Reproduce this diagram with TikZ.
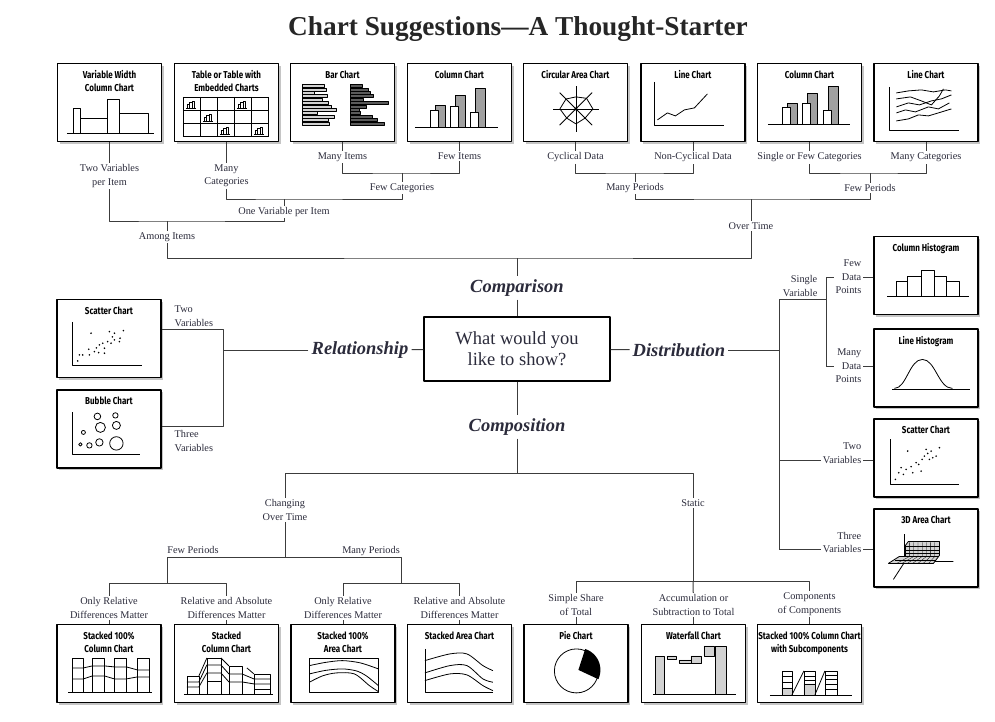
\documentclass[tikz,border=0pt]{standalone}
\usepackage{fontspec}
\setmainfont{Liberation Serif}
\newfontfamily\chartfont[FakeStretch=0.8]{Fira Sans}
\usetikzlibrary{positioning,shadows,calc}

\definecolor{ink}{HTML}{2B2B3B}
\definecolor{rule}{HTML}{3C3C3C}
\definecolor{barfill}{HTML}{A0A0A0}
\definecolor{lightfill}{HTML}{D2D2D2}
\definecolor{darkfill}{HTML}{5A5A5A}

\begin{document}
\begin{tikzpicture}[x=1pt, y=-1pt, line join=round]

    % Define styles
    \tikzstyle{chart} = [draw, line width=1.2pt, fill=white, minimum width=104pt,
        minimum height=78pt, inner sep=0pt,
        drop shadow={shadow xshift=2.2pt, shadow yshift=-2.2pt, fill=black!45}]
    \tikzstyle{charttitle} = [font=\chartfont\bfseries\fontsize{10}{13}\selectfont,
        align=center, inner sep=0pt]
    \tikzstyle{lbl} = [font=\fontsize{10.3}{13.4}\selectfont, align=center, text=ink, inner sep=1.5pt]
    \tikzstyle{kind} = [font=\bfseries\itshape\fontsize{18.5}{22}\selectfont, text=ink, inner sep=3pt]
    \tikzstyle{link} = [draw=rule, line width=1pt]
    \tikzstyle{mini} = [line width=0.8pt]

    \useasboundingbox (0,0) rectangle (995,721);
    \fill[white] (0,0) rectangle (995,721);

    % Title
    \node[font=\bfseries\fontsize{27.3}{30}\selectfont, text=black!85] (title) at (518,29)
        {Chart Suggestions---A Thought-Starter};

    % Define chart boxes: comparison row
    \node[chart] (vwidth) at (109.5,102.5) {};
    \node[charttitle, below=7.5pt of vwidth.north] (vwidthT) {Variable Width\\Column Chart};
    \begin{scope}[shift={(vwidth.north west)}, mini]
        \draw (10,70) -- (97,70);
        \draw (16,70) rectangle (23,45) (23,70) rectangle (50,55)
              (50,70) rectangle (62,36) (62,70) rectangle (91,50);
    \end{scope}

    \node[chart] (table) at (226.5,102.5) {};
    \node[charttitle, below=7.5pt of table.north] (tableT) {Table or Table with\\Embedded Charts};
    \begin{scope}[shift={(table.north west)}, mini]
        \foreach \i in {0,...,5} \draw (9+17*\i,34) -- (9+17*\i,74);
        \foreach \j in {0,...,3} \draw (9,34+13.33*\j) -- (94,34+13.33*\j);
        \foreach \c/\r in {0/0,3/0,1/1,2/2,4/2}
            \draw[line width=0.5pt, fill=white] (12+17*\c,45+13.33*\r) -- (22+17*\c,45+13.33*\r)
                (13+17*\c,45+13.33*\r) rectangle ++(2.5,-4)
                (15.5+17*\c,45+13.33*\r) rectangle ++(2.5,-6)
                (18+17*\c,45+13.33*\r) rectangle ++(2.5,-7);
    \end{scope}

    \node[chart] (bar) at (342.5,102.5) {};
    \node[charttitle, below=7.5pt of bar.north] (barT) {Bar Chart};
    \begin{scope}[shift={(bar.north west)}, mini]
        \foreach \l [count=\i] in {22,24,12,25,20,26,29,34,15,32,26,27}
            \draw[line width=0.4pt, fill=lightfill] (12,18+3.4*\i) rectangle ++(\l,3.1);
        \foreach \l [count=\i] in {12,18,20,23,13,38,16,9,10,22,27,34}
            \draw[line width=0.4pt, fill=darkfill] (60,18+3.4*\i) rectangle ++(\l,3.1);
        \draw (12,21) -- (12,61) (60,21) -- (60,61);
    \end{scope}

    \node[chart] (column) at (459.5,102.5) {};
    \node[charttitle, below=7.5pt of column.north] (columnT) {Column Chart};
    \begin{scope}[shift={(column.north west)}, mini]
        \foreach \x/\w/\g in {23/47/42, 43/43/32, 63/49/25} {
            \draw[fill=barfill] (\x+5,64) rectangle (\x+15,\g);
            \draw[fill=white] (\x,64) rectangle (\x+8,\w);
        }
        \draw (8,64) -- (91,64);
    \end{scope}

    \node[chart] (circular) at (575.5,102.5) {};
    \node[charttitle, below=7.5pt of circular.north] (circularT) {Circular Area Chart};
    \begin{scope}[shift={(circular.north west)}, mini]
        \foreach \a in {0,45,...,315} \draw (53,46) -- ++(\a:23);
        \draw ($(53,46)+(0:17)$) -- ($(53,46)+(45:13)$) -- ($(53,46)+(90:15)$)
            -- ($(53,46)+(135:13)$) -- ($(53,46)+(180:16)$) -- ($(53,46)+(225:14)$)
            -- ($(53,46)+(270:12)$) -- ($(53,46)+(315:15)$) -- cycle;
        \fill (53,46) circle[radius=1.6];
    \end{scope}

    \node[chart] (linech) at (693,102.5) {};
    \node[charttitle, below=7.5pt of linech.north] (linechT) {Line Chart};
    \begin{scope}[shift={(linech.north west)}, mini]
        \draw (14,19) -- (14,62) -- (84,62);
        \draw (17,57) -- (27,50) -- (35,53) -- (44,47) -- (54,45) -- (67,31);
    \end{scope}

    \node[chart] (columnB) at (809.5,102.5) {};
    \node[charttitle, below=7.5pt of columnB.north] (columnBT) {Column Chart};
    \begin{scope}[shift={(columnB.north west)}, mini]
        \foreach \x/\w/\g in {25/44/40, 45/40/30, 66/47/23} {
            \draw[fill=barfill] (\x+5,61) rectangle (\x+15,\g);
            \draw[fill=white] (\x,61) rectangle (\x+8,\w);
        }
        \draw (11,61) -- (93,61);
    \end{scope}

    \node[chart] (linechB) at (926,102.5) {};
    \node[charttitle, below=7.5pt of linechB.north] (linechBT) {Line Chart};
    \begin{scope}[shift={(linechB.north west)}, mini]
        \draw (16,24) -- (16,67) -- (86,67);
        \draw (23,30) -- (35,28) -- (48,27) -- (60,29) -- (72,27) -- (78,28);
        \draw (23,36) -- (37,34) -- (48,38) -- (58,42) -- (66,33) -- (70,26);
        \draw (23,44) -- (35,40) -- (46,42) -- (58,38) -- (68,36) -- (78,32);
        \draw (23,50) -- (32,47) -- (42,49) -- (55,44) -- (65,46) -- (76,40);
        \draw (23,58) -- (35,56) -- (45,52) -- (55,53) -- (65,50) -- (78,46);
    \end{scope}

    % Relationship boxes
    \node[chart] (scatterL) at (109,338.5) {};
    \node[charttitle, below=7.5pt of scatterL.north] (scatterLT) {Scatter Chart};
    \begin{scope}[shift={(scatterL.north west)}, mini]
        \draw (16,23) -- (16,66) -- (86,66);
        \foreach \x/\y in {34.7/34.3, 53/32.7, 58/34.3, 67/31.7, 21.3/62, 23/56, 26.3/56,
            32.3/50.3, 38/52.7, 43/46, 46.3/44.3, 48/49.3, 51.3/42.7, 54.7/44.3, 58/41,
            63/42.7, 63.7/39.3, 33/56, 42.3/53.7, 48/54.3, 40/49, 56/38}
            \fill (\x,\y) circle[radius=0.9];
    \end{scope}

    \node[chart] (bubble) at (109,429) {};
    \node[charttitle, below=7.5pt of bubble.north] (bubbleT) {Bubble Chart};
    \begin{scope}[shift={(bubble.north west)}, mini]
        \draw (16,23) -- (16,65) -- (84,65);
        \foreach \x/\y/\r in {41/27/3.3, 59/26/2.7, 44/38/5, 60/36/4, 27/43/2, 24/55/1.7,
            33/56/2.7, 43/53/3.7, 60/54/6.7}
            \draw (\x,\y) circle[radius=\r];
    \end{scope}

    % Distribution boxes
    \node[chart] (colhist) at (926,275.5) {};
    \node[charttitle, below=7.5pt of colhist.north] (colhistT) {Column Histogram};
    \begin{scope}[shift={(colhist.north west)}, mini]
        \draw (14,60) -- (96,60);
        \draw (23,60) rectangle (34,45) (34,60) rectangle (48,40) (48,60) rectangle (61,34)
              (61,60) rectangle (73,40) (73,60) rectangle (86,45);
    \end{scope}

    \node[chart] (linehist) at (926,368) {};
    \node[charttitle, below=7.5pt of linehist.north] (linehistT) {Line Histogram};
    \begin{scope}[shift={(linehist.north west)}, mini]
        \draw (19,61) -- (97,61);
        \draw (21,60) .. controls (33,60) and (36,31) .. (49,31) .. controls (62,31) and (65,60) .. (79,60);
    \end{scope}

    \node[chart] (scatterR) at (926,458) {};
    \node[charttitle, below=7.5pt of scatterR.north] (scatterRT) {Scatter Chart};
    \begin{scope}[shift={(scatterR.north west)}, mini]
        \draw (17,21) -- (17,66) -- (86,66);
        \foreach \x/\y in {34.3/32.7, 52.7/31, 57.7/32.7, 66/29.3, 22/61, 25.3/54.3, 27.7/49.3,
            32.7/51, 37.7/48.3, 42.7/44.3, 45.3/46, 48.7/41, 51/37.7, 54.3/35, 56/41,
            59.3/39.3, 62.7/37.7, 47.7/52.7, 39.3/54.3, 30/56}
            \fill (\x,\y) circle[radius=0.9];
    \end{scope}

    \node[chart] (area3d) at (926,548) {};
    \node[charttitle, below=7.5pt of area3d.north] (area3dT) {3D Area Chart};
    \begin{scope}[shift={(area3d.north west)}, mini]
        \draw (31,54) -- (20,71) (31,53) -- (80,53);
        \draw[fill=lightfill] (32,37) -- (35,33) -- (66,33) -- (66,47) -- (60,55) -- (15,55)
            -- (26,48) -- (32,48) -- cycle;
        \foreach \i in {1,...,7}
            \draw[line width=0.3pt] (32+4.2*\i,34) -- (32+4.2*\i,48) -- (18+5.3*\i,55);
        \foreach \j in {38,42,45} \draw[line width=0.3pt] (32,\j) -- (66,\j);
        \draw[line width=0.3pt] (32,48) -- (66,48) (22,51.5) -- (63,51.5);
        \draw (31,26) -- (31,48);
    \end{scope}

    % Composition boxes
    \node[chart] (stackcol) at (109,663.5) {};
    \node[charttitle, below=7.5pt of stackcol.north] (stackcolT) {Stacked 100\%\\Column Chart};
    \begin{scope}[shift={(stackcol.north west)}, mini]
        \foreach \a/\b in {16/27, 36/48, 58/70, 81/93} \draw (\a,68) rectangle (\b,34);
        \draw (16,44) -- (27,44) -- (36,42) -- (48,42) -- (58,43) -- (70,43) -- (81,46) -- (93,46);
        \draw (16,55) -- (27,55) -- (36,52) -- (48,52) -- (58,55) -- (70,55) -- (81,53) -- (93,53);
        \draw (12,68) -- (96,68);
    \end{scope}

    \node[chart] (stacked) at (226.5,663.5) {};
    \node[charttitle, below=7.5pt of stacked.north] (stackedT) {Stacked\\Column Chart};
    \begin{scope}[shift={(stacked.north west)}, mini]
        \draw (13,70) rectangle (25,52) (33,70) rectangle (47,34) (55,70) rectangle (68,42)
              (80,70) rectangle (96,50);
        \draw (13,58) -- (25,58) -- (33,41) -- (47,41) -- (55,50) -- (68,50) -- (80,55) -- (96,55);
        \draw (13,63) -- (25,63) -- (33,49) -- (47,49) -- (55,58) -- (68,58) -- (80,60) -- (96,60);
        \draw (33,57) -- (47,57) (80,65) -- (96,65);
        \draw (25,52) -- (33,34) (47,34) -- (55,42) (73,44) -- (80,50);
        \draw (10,70) -- (99,70);
    \end{scope}

    \node[chart] (areafull) at (343,663.5) {};
    \node[charttitle, below=7.5pt of areafull.north] (areafullT) {Stacked 100\%\\Area Chart};
    \begin{scope}[shift={(areafull.north west)}, mini]
        \draw (19,34) rectangle (88,68);
        \draw plot[smooth] coordinates {(19,41.7) (35,38.5) (52,36.7) (70,39) (88,45)};
        \draw plot[smooth] coordinates {(19,50) (35,46.5) (52,45) (66,47) (76,52) (88,61.7)};
        \draw plot[smooth] coordinates {(19,58.3) (32,52) (46,49) (64,50) (79,61.7) (88,67.7)};
    \end{scope}

    \node[chart] (stackarea) at (459.5,663.5) {};
    \node[charttitle, below=7.5pt of stackarea.north] (stackareaT) {Stacked Area Chart};
    \begin{scope}[shift={(stackarea.north west)}, mini]
        \draw (18,25) -- (18,68) -- (86,68);
        \draw plot[smooth] coordinates {(18,36.7) (43,30) (60,30) (76,41.7) (86,46.7)};
        \draw plot[smooth] coordinates {(18,49) (43,41.7) (60,41.7) (76,55) (86,58.3)};
        \draw plot[smooth] coordinates {(18,56.7) (43,50) (60,51) (76,61.7) (86,66.7)};
    \end{scope}

    \node[chart] (pie) at (576,663.5) {};
    \node[charttitle, below=7.5pt of pie.north] (pieT) {Pie Chart};
    \begin{scope}[shift={(pie.north west)}, mini]
        \draw (53,47) circle[radius=22];
        \fill (55,46) -- plot[domain=-72:25, samples=24] ({55+22*cos(\x)},{46+22*sin(\x)}) -- cycle;
    \end{scope}

    \node[chart] (waterfall) at (693.5,663.5) {};
    \node[charttitle, below=7.5pt of waterfall.north] (waterfallT) {Waterfall Chart};
    \begin{scope}[shift={(waterfall.north west)}, mini]
        \draw[fill=lightfill] (14,70) rectangle (23,32);
        \draw[fill=lightfill] (26,32) rectangle (35,35) (38,36) rectangle (50,39)
              (50,32) rectangle (60,39) (63,22) rectangle (73,32);
        \draw[fill=lightfill] (74,70) rectangle (85,22);
        \draw (12,70) -- (95,70);
    \end{scope}

    \node[chart] (subcomp) at (809.5,663.5) {};
    \node[charttitle, below=7.5pt of subcomp.north] (subcompT) {Stacked 100\% Column Chart\\with Subcomponents};
    \begin{scope}[shift={(subcomp.north west)}, mini]
        \draw[fill=lightfill] (25,64) rectangle (35,71) (47,60) rectangle (58,71);
        \draw (25,47) rectangle (35,71) (47,47) rectangle (58,71) (68,47) rectangle (80,71);
        \draw (25,52) -- (35,52) (25,58) -- (35,58) (25,64) -- (35,64);
        \draw (47,52) -- (58,52) (47,56) -- (58,56) (47,60) -- (58,60);
        \draw (68,51) -- (80,51) (68,55) -- (80,55) (68,60) -- (80,60) (68,65) -- (80,65);
        \draw (35,71) -- (47,47) (58,71) -- (68,47);
        \draw (13,71) -- (95,71);
    \end{scope}

    % Centre question and the four kinds
    \node[draw, line width=1.1pt, minimum width=186pt, minimum height=64pt, align=center,
        text=ink, font=\fontsize{18.5}{21}\selectfont] (question) at (517,349)
        {What would you\\like to show?};
    \node[kind] (comparison) at (517,288) {Comparison};
    \node[kind] (composition) at (517,427) {Composition};
    \node[kind] (relation) at (360,350) {Relationship};
    \node[kind] (distrib) at (679,350) {Distribution};

    % Comparison labels
    \node[lbl, below=21pt of vwidth] (twovar) {Two Variables\\per Item};
    \node[lbl, below=21pt of table] (manycat) {Many\\Categories};
    \node[lbl, below=9pt of bar] (manyitems) {Many Items};
    \node[lbl, below=9pt of column] (fewitems) {Few Items};
    \node[lbl, below=9pt of circular] (cyclical) {Cyclical Data};
    \node[lbl, below=9pt of linech] (noncyc) {Non-Cyclical Data};
    \node[lbl, below=9pt of columnB] (singlefew) {Single or Few Categories};
    \node[lbl, below=9pt of linechB] (manycats) {Many Categories};
    \node[lbl] (fewcat) at (402,188) {Few Categories};
    \node[lbl] (onevar) at (284,212) {One Variable per Item};
    \node[lbl] (among) at (167,237) {Among Items};
    \node[lbl] (manyper) at (635,188) {Many Periods};
    \node[lbl] (fewper) at (870,188) {Few Periods};
    \node[lbl] (overtime) at (751,226) {Over Time};

    \coordinate (jA1) at (402,173);
    \coordinate (jA2) at (284,199);
    \coordinate (jA3) at (167,221);
    \coordinate (jB1) at (635,173);
    \coordinate (jB2) at (870,173);
    \coordinate (jB3) at (751,199);
    \coordinate (jTop) at (517,258);

    % Draw comparison tree
    \path[link] (vwidth) -- (twovar);
    \path[link] (table) -- (manycat);
    \path[link] (bar) -- (manyitems);
    \path[link] (column) -- (fewitems);
    \path[link] (circular) -- (cyclical);
    \path[link] (linech) -- (noncyc);
    \path[link] (columnB) -- (singlefew);
    \path[link] (linechB) -- (manycats);
    \path[link] (manyitems) |- (jA1) -| (fewitems);
    \path[link] (jA1) -- (fewcat);
    \path[link] (manycat) |- (jA2) -| (fewcat);
    \path[link] (jA2) -- (onevar);
    \path[link] (twovar) |- (jA3) -| (onevar);
    \path[link] (jA3) -- (among);
    \path[link] (cyclical) |- (jB1) -| (noncyc);
    \path[link] (jB1) -- (manyper);
    \path[link] (singlefew) |- (jB2) -| (manycats);
    \path[link] (jB2) -- (fewper);
    \path[link] (manyper) |- (jB3) -| (fewper);
    \path[link] (jB3) -- (overtime);
    \path[link] (among) |- (jTop) -| (overtime);
    \path[link] (jTop) -- (comparison);
    \path[link] (comparison) -- (question);

    % Relationship branch
    \coordinate (jR0) at (223,350);
    \coordinate (jR1) at (223,329);
    \coordinate (jR2) at (223,426);
    \path[link] (question) -- (relation);
    \path[link] (relation) -- (jR0);
    \path[link] (jR1 -| scatterL.east) -- (jR1) -- (jR2) -- (jR2 -| bubble.east);
    \node[lbl, align=left, anchor=south west] (relTwo) at (173,328) {Two\\Variables};
    \node[lbl, align=left, anchor=north west] (relThree) at (173,429) {Three\\Variables};

    % Distribution branch
    \coordinate (jD0) at (779,350);
    \coordinate (jD1) at (779,299);
    \coordinate (jD2) at (779,460);
    \coordinate (jD3) at (779,549);
    \coordinate (jSV) at (826,299);
    \coordinate (jFD) at (826,277);
    \coordinate (jMD) at (826,366);
    \path[link] (question) -- (distrib);
    \path[link] (distrib) -- (jD0);
    \path[link] (jD1) -- (jD3);
    \path[link] (jD1) -- (jSV);
    \path[link] (jFD) -- (jMD);
    \path[link] (jFD) -- (jFD -| colhist.west);
    \path[link] (jMD) -- (jMD -| linehist.west);
    \path[link] (jD2) -- (jD2 -| scatterR.west);
    \path[link] (jD3) -- (jD3 -| area3d.west);
    \node[lbl, align=right, anchor=south east] (single) at (819,298) {Single\\Variable};
    \node[lbl, align=right, anchor=east, fill=white] (fewdp) at (863,277) {Few\\Data\\Points};
    \node[lbl, align=right, anchor=east, fill=white] (manydp) at (863,366) {Many\\Data\\Points};
    \node[lbl, align=right, anchor=east, fill=white] (distTwo) at (863,453.3) {Two\\Variables};
    \node[lbl, align=right, anchor=east, fill=white] (distThree) at (863,542.3) {Three\\Variables};

    % Composition labels
    \node[lbl] (changing) at (285,510) {Changing\\Over Time};
    \node[lbl] (static) at (693,503) {Static};
    \node[lbl, anchor=base] (fewperB) at (193,553) {Few Periods};
    \node[lbl, anchor=base] (manyperB) at (371,553) {Many Periods};
    \node[lbl, above=4pt of stackcol] (relonlyA) {Only Relative\\Differences Matter};
    \node[lbl, above=4pt of stacked] (relabsA) {Relative and Absolute\\Differences Matter};
    \node[lbl, above=4pt of areafull] (relonlyB) {Only Relative\\Differences Matter};
    \node[lbl, above=4pt of stackarea] (relabsB) {Relative and Absolute\\Differences Matter};
    \node[lbl, above=7pt of pie] (share) {Simple Share\\of Total};
    \node[lbl, above=7pt of waterfall] (accum) {Accumulation or\\Subtraction to Total};
    \node[lbl, above=7pt of subcomp] (comps) {Components\\of Components};

    \coordinate (jC) at (517,473);
    \coordinate (jCT) at (285,557);
    \coordinate (jFew) at (167,583);
    \coordinate (jMany) at (401,583);
    \coordinate (jS) at (693,581);

    % Draw composition tree
    \path[link] (question) -- (composition);
    \path[link] (composition) -- (jC);
    \path[link] (changing) |- (jC) -| (static);
    \path[link] (changing) -- (jCT);
    \path[link] (jFew) |- (jCT) -| (jMany);
    \path[link] (relonlyA) |- (jFew) -| (relabsA);
    \path[link] (relonlyB) |- (jMany) -| (relabsB);
    \path[link] (static) -- (jS);
    \path[link] (share) |- (jS) -| (comps);
    \path[link] (jS) -- (accum);
    \path[link] (stackcol) -- (relonlyA);
    \path[link] (stacked) -- (relabsA);
    \path[link] (areafull) -- (relonlyB);
    \path[link] (stackarea) -- (relabsB);
    \path[link] (pie) -- (share);
    \path[link] (waterfall) -- (accum);
    \path[link] (subcomp) -- (comps);

\end{tikzpicture}
\end{document}
